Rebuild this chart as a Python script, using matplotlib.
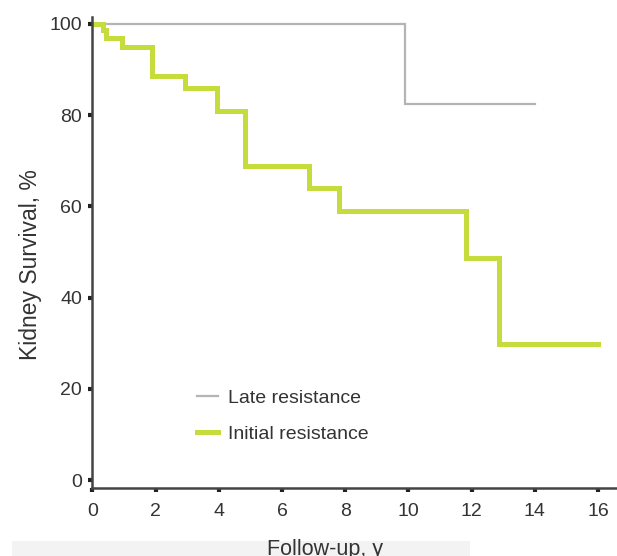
import matplotlib
matplotlib.use("Agg")
import matplotlib.pyplot as plt
from matplotlib.patches import Rectangle

plt.rcParams['font.family'] = ['Liberation Sans', 'DejaVu Sans']

# Data (Kaplan-Meier steps)
late_t = [0, 9.9, 14.0]
late_s = [100, 82.5, 82.5]
init_t = [0, 0.35, 0.43, 0.93, 1.88, 2.93, 3.94, 4.83, 6.84, 7.82, 11.83, 12.87, 16.0]
init_s = [100, 98.7, 96.9, 95.0, 88.5, 85.9, 80.8, 68.8, 64.0, 58.9, 48.6, 29.9, 29.9]
labels = ["Late resistance", "Initial resistance"]
xticks = [0, 2, 4, 6, 8, 10, 12, 14, 16]
yticks = [0, 20, 40, 60, 80, 100]

W, H = 617, 556
fig = plt.figure(figsize=(W / 100, H / 100), dpi=100)

# light band behind x label
fig.patches.append(Rectangle((12 / W, 0), (470 - 12) / W, 15 / H,
                             transform=fig.transFigure, facecolor='#f3f3f3',
                             edgecolor='none', zorder=0))

ax = fig.add_axes([92.3 / W, 68 / H, 524.7 / W, 471 / H])
ax.set_facecolor('none')

grey = '#b4b4b8'
green = '#c5dc3c'
ax.step(late_t, late_s, where='post', color=grey, lw=1.6, label=labels[0], solid_joinstyle='miter')
ax.step(init_t, init_s, where='post', color=green, lw=3.6, label=labels[1], solid_joinstyle='miter')

ax.set_xlim(0, 16.6)
ax.set_ylim(-1.7, 101.5)
ax.set_xticks(xticks)
ax.set_yticks(yticks)

for s in ['top', 'right']:
    ax.spines[s].set_visible(False)
for s in ['left', 'bottom']:
    ax.spines[s].set_color('#444444')
    ax.spines[s].set_linewidth(1.8)

ax.tick_params(axis='both', direction='out', length=3, width=3, color='#222222',
               labelcolor='#333333', labelsize=14)
ax.tick_params(axis='x', pad=8)
ax.tick_params(axis='y', pad=4.5)

ax.set_ylabel("Kidney Survival, %", fontsize=16.5, color='#333333')
ax.yaxis.set_label_coords(-0.0964, 0.4745)
fig.text(325 / W, 1 / H, "Follow-up, y", fontsize=15.5, color='#333333',
         ha='center', va='baseline')

ax.legend(loc='upper left', bbox_to_anchor=(0.1995, 0.21), frameon=False,
          fontsize=14, borderpad=0, borderaxespad=0, handlelength=1.1,
          handletextpad=0.5, labelspacing=0.95, labelcolor='#333333')

fig.savefig("out.png", dpi=100)
